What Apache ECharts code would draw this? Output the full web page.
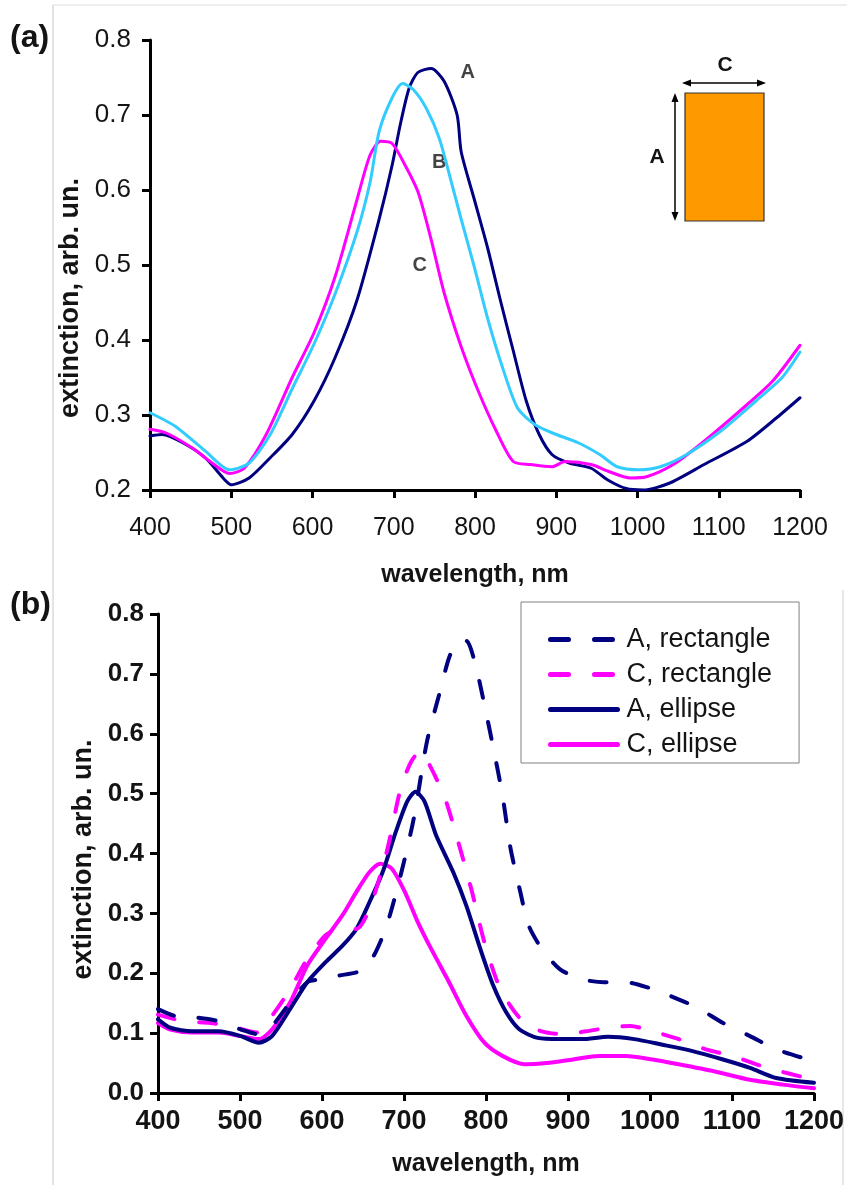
<!DOCTYPE html>
<html>
<head>
<meta charset="utf-8">
<script src="https://cdn.jsdelivr.net/npm/echarts@6/dist/echarts.min.js"></script>
<style>
  html, body { margin: 0; padding: 0; background: #fff; }
  #chart { width: 847px; height: 1185px; }
</style>
</head>
<body>
<div id="chart"></div>
<script>
// ---- (a) measured extinction spectra, [wavelength nm, extinction] ----
const measuredA = [[400,0.272],[415,0.274],[442,0.262],[468,0.243],[490,0.216],[500,0.207],[522,0.216],[548,0.243],[575,0.274],[602,0.319],[628,0.377],[655,0.454],[682,0.561],[698,0.633],[708,0.687],[719,0.736],[730,0.757],[746,0.762],[762,0.745],[778,0.700],[783,0.651],[799,0.588],[815,0.525],[831,0.454],[847,0.386],[863,0.319],[879,0.274],[895,0.247],[916,0.236],[943,0.229],[964,0.213],[986,0.202],[1007,0.200],[1039,0.209],[1082,0.234],[1135,0.265],[1172,0.297],[1200,0.323]];
const measuredB = [[400,0.303],[431,0.285],[468,0.252],[498,0.227],[522,0.236],[548,0.274],[575,0.335],[602,0.395],[628,0.462],[655,0.545],[671,0.611],[682,0.678],[698,0.723],[711,0.742],[724,0.734],[740,0.709],[756,0.669],[772,0.606],[783,0.561],[799,0.498],[815,0.431],[831,0.373],[852,0.310],[874,0.287],[900,0.274],[927,0.263],[954,0.247],[975,0.231],[1002,0.227],[1028,0.231],[1060,0.247],[1103,0.279],[1146,0.319],[1178,0.350],[1200,0.384]];
const measuredC = [[400,0.281],[420,0.276],[452,0.256],[474,0.238],[498,0.222],[516,0.229],[543,0.274],[575,0.350],[602,0.410],[628,0.485],[655,0.588],[671,0.647],[684,0.665],[698,0.662],[714,0.633],[730,0.597],[746,0.534],[762,0.463],[783,0.391],[804,0.332],[826,0.279],[847,0.238],[868,0.234],[895,0.231],[911,0.238],[943,0.234],[964,0.225],[991,0.216],[1012,0.218],[1044,0.234],[1082,0.265],[1135,0.314],[1167,0.346],[1200,0.393]];
// curve tags placed next to the peaks, [wavelength, extinction]
const curveTags = [['A', 791, 0.757], ['B', 756, 0.637], ['C', 732, 0.500]];

// ---- (b) calculated spectra ----
const rectA = [[400,0.140],[420,0.129],[447,0.126],[474,0.120],[501,0.106],[523,0.098],[539,0.112],[561,0.151],[582,0.185],[598,0.190],[620,0.196],[647,0.204],[663,0.229],[679,0.280],[696,0.364],[712,0.459],[728,0.587],[744,0.671],[755,0.727],[766,0.755],[776,0.755],[787,0.716],[798,0.649],[809,0.576],[820,0.498],[830,0.408],[841,0.341],[852,0.280],[868,0.241],[890,0.207],[917,0.190],[944,0.185],[971,0.185],[998,0.176],[1025,0.162],[1057,0.143],[1089,0.117],[1122,0.095],[1154,0.073],[1200,0.053]];
const rectC = [[400,0.131],[431,0.120],[464,0.117],[496,0.109],[520,0.101],[539,0.129],[561,0.173],[582,0.224],[604,0.263],[620,0.274],[642,0.274],[658,0.308],[679,0.403],[696,0.509],[709,0.554],[720,0.571],[733,0.543],[750,0.492],[766,0.420],[782,0.341],[798,0.252],[814,0.185],[830,0.145],[847,0.117],[868,0.103],[895,0.098],[922,0.103],[949,0.109],[976,0.112],[1003,0.103],[1035,0.090],[1068,0.073],[1100,0.062],[1143,0.042],[1200,0.022]];
const ellA = [[400,0.123],[415,0.109],[442,0.103],[474,0.103],[501,0.095],[523,0.084],[539,0.095],[561,0.140],[582,0.185],[604,0.218],[625,0.246],[642,0.274],[658,0.319],[674,0.369],[690,0.436],[704,0.487],[714,0.503],[725,0.487],[739,0.431],[760,0.369],[776,0.313],[793,0.241],[809,0.179],[825,0.134],[841,0.106],[863,0.092],[890,0.090],[917,0.090],[949,0.094],[981,0.090],[1014,0.081],[1052,0.070],[1089,0.056],[1122,0.042],[1154,0.025],[1200,0.017]];
const ellC = [[400,0.117],[415,0.106],[442,0.101],[474,0.101],[501,0.095],[523,0.090],[539,0.106],[561,0.151],[582,0.213],[604,0.257],[625,0.297],[642,0.336],[658,0.369],[671,0.383],[685,0.375],[701,0.336],[717,0.285],[733,0.241],[755,0.185],[776,0.129],[798,0.084],[820,0.062],[847,0.048],[874,0.050],[906,0.056],[938,0.062],[971,0.062],[1003,0.056],[1035,0.048],[1079,0.036],[1122,0.022],[1162,0.014],[1200,0.008]];
const legendNames = ['A, rectangle', 'C, rectangle', 'A, ellipse', 'C, ellipse'];

const NAVY = '#000080', MAGENTA = '#ff00ff', CYAN = '#33ccff';
const FONT = 'Liberation Sans, Arial, sans-serif';
const INK = '#141414';

function xAxisOf(gridIndex, labelStyle, nameGap) {
  return {
    type: 'value', gridIndex, min: 400, max: 1200, interval: 100,
    axisLine: { show: true, onZero: false, lineStyle: { color: '#000', width: 3 } },
    axisTick: { show: true, length: 8, lineStyle: { color: '#000', width: 3 } },
    axisLabel: Object.assign({ color: INK, fontFamily: FONT, formatter: v => String(v) }, labelStyle),
    splitLine: { show: false },
    name: 'wavelength, nm', nameLocation: 'middle', nameGap,
    nameTextStyle: { color: INK, fontFamily: FONT, fontWeight: 'bold', fontSize: 25 }
  };
}
function yAxisOf(gridIndex, min, labelStyle, nameGap, shiftDown) {
  return {
    type: 'value', gridIndex, min, max: 0.8, interval: 0.1,
    axisLine: { show: true, onZero: false, lineStyle: { color: '#000', width: 3 } },
    axisTick: { show: true, length: 8, lineStyle: { color: '#000', width: 3 } },
    axisLabel: Object.assign({ color: INK, fontFamily: FONT, formatter: v => v.toFixed(1) }, labelStyle),
    splitLine: { show: false },
    name: 'extinction, arb. un.', nameLocation: 'middle', nameGap, nameRotate: 90,
    nameTextStyle: { color: INK, fontFamily: FONT, fontWeight: 'bold', fontSize: 27,
      padding: [0, shiftDown * 2, 0, 0] }
  };
}
function curve(name, data, color, width, dashed, axis) {
  return {
    type: 'line', name, data, xAxisIndex: axis, yAxisIndex: axis,
    symbol: 'none', smooth: 0.25, silent: true, animation: false,
    lineStyle: { color, width, type: dashed ? [17, 25] : 'solid', cap: 'round', join: 'round' },
    itemStyle: { color }
  };
}

const chart = echarts.init(document.getElementById('chart'), null, { renderer: 'canvas' });

const tagSeries = {
  type: 'scatter', xAxisIndex: 0, yAxisIndex: 0, silent: true, animation: false,
  symbolSize: 0,
  data: curveTags.map(t => ({ name: t[0], value: [t[1], t[2]] })),
  label: { show: true, position: 'inside', formatter: p => p.name,
    color: INK, fontFamily: FONT, fontWeight: 'bold', fontSize: 20 }
};

chart.setOption({
  backgroundColor: '#fff',
  animation: false,
  grid: [
    { left: 150, top: 40, width: 650, height: 450 },
    { left: 158, top: 614, width: 665, height: 479 }
  ],
  xAxis: [
    xAxisOf(0, { fontSize: 25, margin: 26 }, 73),
    xAxisOf(1, { fontSize: 27, fontWeight: 'bold', margin: 15 }, 59)
  ],
  yAxis: [
    yAxisOf(0, 0.2, { fontSize: 26, margin: 19 }, 60, 33),
    yAxisOf(1, 0, { fontSize: 26, fontWeight: 'bold', margin: 14 }, 59, 6)
  ],
  legend: {
    orient: 'vertical', left: 521, top: 602,
    padding: [24, 27, 5, 27],
    itemWidth: 67, itemHeight: 16, itemGap: 8,
    borderColor: '#808080', borderWidth: 1, backgroundColor: '#fff',
    selectedMode: false,
    itemStyle: { opacity: 0 },
    lineStyle: { width: 5, cap: 'round' },
    textStyle: { color: INK, fontFamily: FONT, fontSize: 27, lineHeight: 27, padding: [0, 0, 0, 4] },
    data: [
      { name: legendNames[0], lineStyle: { type: [18, 26], width: 5, cap: 'round' } },
      { name: legendNames[1], lineStyle: { type: [18, 26], width: 5, cap: 'round' } },
      { name: legendNames[2] },
      { name: legendNames[3] }
    ]
  },
  series: [
    curve('A', measuredA, NAVY, 3, false, 0),
    curve('C', measuredC, MAGENTA, 3, false, 0),
    curve('B', measuredB, CYAN, 3, false, 0),
    tagSeries,
    curve(legendNames[3], ellC, MAGENTA, 4, false, 1),
    curve(legendNames[2], ellA, NAVY, 4, false, 1),
    curve(legendNames[1], rectC, MAGENTA, 4, true, 1),
    curve(legendNames[0], rectA, NAVY, 4, true, 1)
  ],
  graphic: [
    // page frame lines
    { type: 'line', shape: { x1: 53, y1: 5, x2: 53, y2: 1185 }, style: { stroke: '#c8c8c8', lineWidth: 1 } },
    { type: 'line', shape: { x1: 53, y1: 5, x2: 847, y2: 5 }, style: { stroke: '#dddddd', lineWidth: 1 } },
    { type: 'line', shape: { x1: 843, y1: 590, x2: 843, y2: 1185 }, style: { stroke: '#d0d0d0', lineWidth: 1 } },
    // panel letters
    { type: 'text', x: 10, y: 38, style: { text: '(a)', fontFamily: FONT, fontWeight: 'bold', fontSize: 32, fill: INK, verticalAlign: 'middle' } },
    { type: 'text', x: 10, y: 605, style: { text: '(b)', fontFamily: FONT, fontWeight: 'bold', fontSize: 32, fill: INK, verticalAlign: 'middle' } },
    // particle sketch: rectangle with its two dimensions
    { type: 'rect', shape: { x: 685, y: 93, width: 79, height: 128 }, style: { fill: '#ff9900', stroke: '#333', lineWidth: 1.2 } },
    { type: 'line', shape: { x1: 675, y1: 97, x2: 675, y2: 217 }, style: { stroke: '#000', lineWidth: 1.5 } },
    { type: 'polygon', shape: { points: [[675, 93], [671.5, 102], [678.5, 102]] }, style: { fill: '#000' } },
    { type: 'polygon', shape: { points: [[675, 221], [671.5, 212], [678.5, 212]] }, style: { fill: '#000' } },
    { type: 'line', shape: { x1: 686, y1: 83, x2: 762, y2: 83 }, style: { stroke: '#000', lineWidth: 1.5 } },
    { type: 'polygon', shape: { points: [[682, 83], [691, 79.5], [691, 86.5]] }, style: { fill: '#000' } },
    { type: 'polygon', shape: { points: [[766, 83], [757, 79.5], [757, 86.5]] }, style: { fill: '#000' } },
    { type: 'text', x: 657, y: 157, style: { text: 'A', fontFamily: FONT, fontWeight: 'bold', fontSize: 21, fill: INK, align: 'center', verticalAlign: 'middle' } },
    { type: 'text', x: 725, y: 65, style: { text: 'C', fontFamily: FONT, fontWeight: 'bold', fontSize: 21, fill: INK, align: 'center', verticalAlign: 'middle' } }
  ]
});
</script>
</body>
</html>
